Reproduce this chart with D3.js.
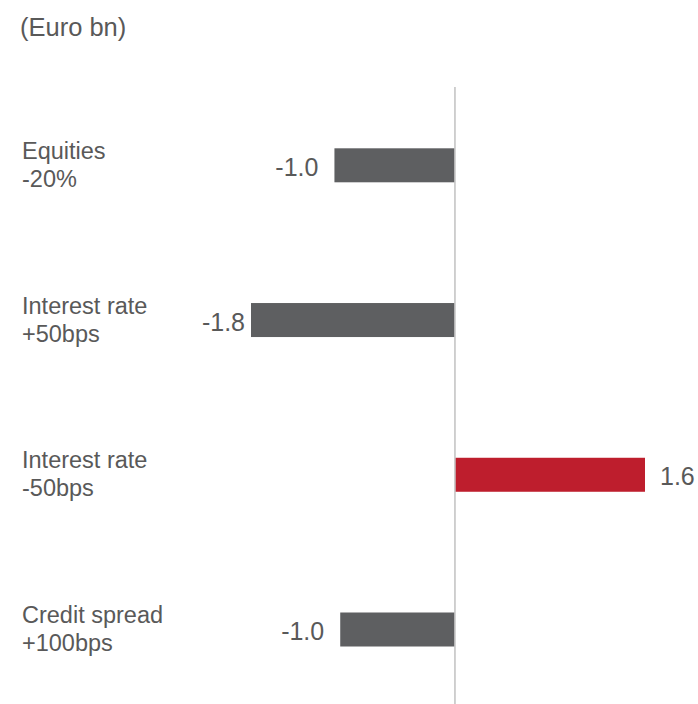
<!DOCTYPE html>
<html>
<head>
<meta charset="utf-8">
<script src="https://cdn.jsdelivr.net/npm/d3@7"></script>
<style>
html,body{margin:0;padding:0;background:#fff;}
text{font-family:"Liberation Sans",Arial,sans-serif;fill:#595959;}
</style>
</head>
<body>
<svg id="chart" width="698" height="704"></svg>
<script>
const unitLabel = "(Euro bn)";
const categoryLine1 = ["Equities", "Interest rate", "Interest rate", "Credit spread"];
const categoryLine2 = ["-20%", "+50bps", "-50bps", "+100bps"];
const values = [-1.04, -1.76, 1.64, -0.99];

const svg = d3.select("#chart");
const x = d3.scaleLinear().domain([-1.76, 1.64]).range([251, 645]);
const y = d3.scalePoint().domain(d3.range(values.length)).range([165.3, 629.5]);
const barH = 34;
const fmt = d3.formatLocale({decimal: ".", thousands: ",", grouping: [3], currency: ["", ""], minus: "-"}).format(".1f");

svg.append("text").attr("x", 20).attr("y", 35.5)
  .style("font-size", "25.5px").text(unitLabel);

const g = svg.append("g");

g.selectAll("rect.bar").data(values).join("rect")
  .attr("class", "bar")
  .attr("x", d => Math.min(x(0), x(d)))
  .attr("width", d => Math.abs(x(d) - x(0)))
  .attr("y", (d, i) => y(i) - barH / 2)
  .attr("height", barH)
  .attr("fill", d => d > 0 ? "#be1e2d" : "#5e5f61");

// zero axis line
g.append("line")
  .attr("x1", x(0)).attr("x2", x(0))
  .attr("y1", 87).attr("y2", 704)
  .attr("stroke", "#c4c4c4").attr("stroke-width", 1.6);

// value labels
g.selectAll("text.val").data(values).join("text")
  .attr("class", "val")
  .attr("x", d => d > 0 ? x(d) + 15 : Math.max(x(d) - 16, 245))
  .attr("y", (d, i) => y(i) + 10.5)
  .attr("text-anchor", d => d > 0 ? "start" : "end")
  .style("font-size", "25px")
  .text(d => fmt(d));

// category labels
const cat = g.selectAll("text.cat").data(values).join("text")
  .attr("class", "cat")
  .attr("x", 22)
  .attr("y", (d, i) => y(i) - 6.5)
  .style("font-size", "23.5px");
cat.append("tspan").attr("x", 22).text((d, i) => categoryLine1[i]);
cat.append("tspan").attr("x", 22).attr("dy", 28).text((d, i) => categoryLine2[i]);
</script>
</body>
</html>
